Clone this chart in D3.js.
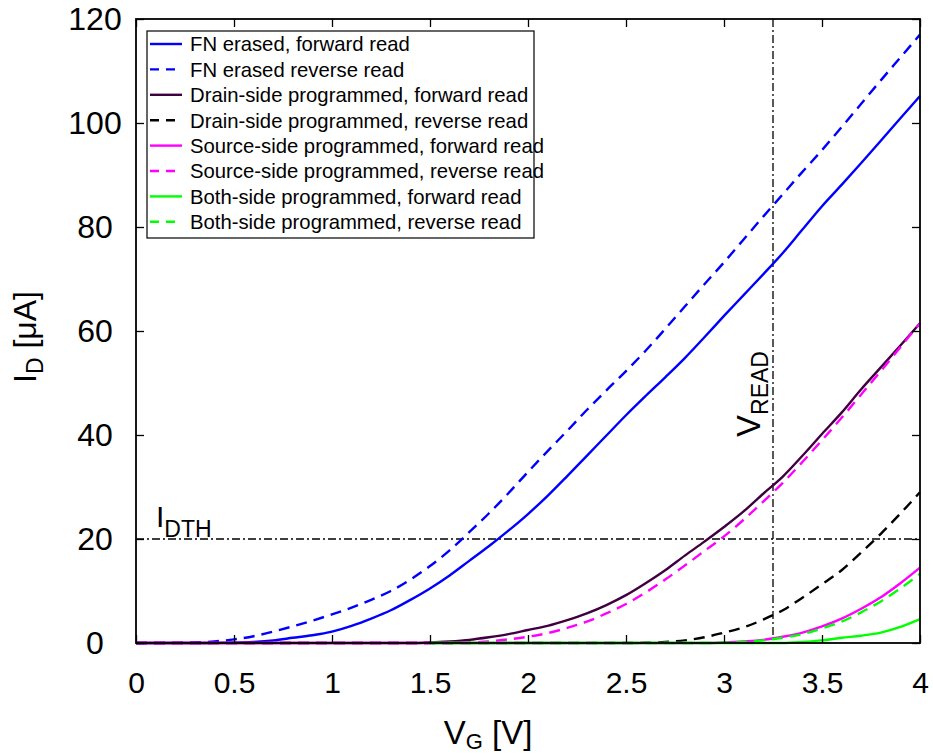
<!DOCTYPE html>
<html>
<head>
<meta charset="utf-8">
<script src="https://cdn.jsdelivr.net/npm/d3@7"></script>
<style>
  html, body { margin: 0; padding: 0; background: #fff; }
  svg { display: block; font-family: "Liberation Sans", Arial, sans-serif; }
</style>
</head>
<body>
<svg id="chart" width="933" height="755"></svg>
<script>
// ---- data ----
const vg = [0,0.1,0.2,0.3,0.4,0.5,0.6,0.7,0.8,0.9,1.0,1.1,1.2,1.3,1.4,1.5,1.6,1.7,1.8,1.9,2.0,
            2.1,2.2,2.3,2.4,2.5,2.6,2.7,2.8,2.9,3.0,3.1,3.2,3.3,3.4,3.5,3.6,3.7,3.8,3.9,4.0];
const vgBoth = [1.5,1.6,1.7,1.8,1.9,2.0,2.1,2.2,2.3,2.4,2.5,2.6,2.7,2.8,2.9,3.0,
                3.1,3.2,3.3,3.4,3.5,3.6,3.7,3.8,3.9,4.0];

const fnForward = [0,0,0,0,0.02,0.05,0.2,0.5,1.0,1.5,2.2,3.3,4.7,6.3,8.3,10.5,13.0,15.8,18.6,21.6,24.8,
                   28.3,32.1,36.0,39.9,43.8,47.5,51.1,54.8,58.8,62.9,66.9,70.9,75.0,79.5,84.0,88.1,92.3,96.6,100.9,105.2];
const fnReverse = [0,0,0.02,0.1,0.3,0.7,1.3,2.2,3.2,4.3,5.5,6.8,8.3,10.0,12.2,14.8,17.8,21.3,24.9,28.8,32.9,
                   36.9,40.8,44.8,48.6,52.3,56.2,60.4,64.7,69.0,73.2,77.6,82.0,86.3,90.6,94.8,99.2,103.7,108.2,112.6,117.0];
const drainForward = [0,0,0,0,0,0,0,0,0,0,0,0,0,0,0,0.1,0.3,0.6,1.1,1.7,2.5,
                      3.3,4.4,5.7,7.3,9.2,11.5,14.0,16.8,19.5,22.3,25.3,28.7,32.0,36.0,40.2,44.3,48.8,53.0,57.2,61.5];
const drainReverse = [0,0,0,0,0,0,0,0,0,0,0,0,0,0,0,0,0,0,0,0,0,
                      0,0,0,0,0,0.05,0.2,0.5,1.1,2.0,3.0,4.5,6.3,8.7,11.3,14.0,17.4,21.0,24.9,29.0];
const sourceForward = [0,0,0,0,0,0,0,0,0,0,0,0,0,0,0,0,0,0,0,0,0,
                       0,0,0,0,0,0,0,0,0,0.1,0.3,0.6,1.2,2.0,3.2,4.7,6.6,8.8,11.5,14.5];
const sourceReverse = [0,0,0,0,0,0,0,0,0,0,0,0,0,0,0,0,0,0.1,0.3,0.7,1.2,
                       1.9,2.9,4.1,5.7,7.5,9.7,12.2,14.9,17.7,20.5,23.7,27.2,30.8,34.8,39.0,43.3,47.8,52.3,56.9,61.5];
const bothForward = [0,0,0,0,0,0,0,0,0,0,0,0,0,0,0,0,0,0,0,0.2,0.5,1.0,1.4,2.0,3.1,4.6];
const bothReverse = [0,0,0,0,0,0,0,0,0,0,0,0,0,0,0,0.05,0.2,0.5,1.0,1.7,2.8,4.1,5.9,8.0,10.5,13.3];

const seriesNames = ["FN erased, forward read","FN erased reverse read",
  "Drain-side programmed, forward read","Drain-side programmed, reverse read",
  "Source-side programmed, forward read","Source-side programmed, reverse read",
  "Both-side programmed, forward read","Both-side programmed, reverse read"];
const seriesColors = ["#0000ff","#0000ff","#400040","#000000","#ff00ff","#ff00ff","#00ff00","#00ff00"];
const seriesDashed = [false,true,false,true,false,true,false,true];
const seriesX = [vg,vg,vg,vg,vg,vg,vgBoth,vgBoth];
const seriesY = [fnForward,fnReverse,drainForward,drainReverse,sourceForward,sourceReverse,bothForward,bothReverse];

const xTicks = [0,0.5,1,1.5,2,2.5,3,3.5,4];
const yTicks = [0,20,40,60,80,100,120];
const vRead = 3.25;
const iDth = 20;

// ---- layout ----
const svg = d3.select("#chart");
const L = 136, R = 920, T = 19, B = 643;
const x = d3.scaleLinear().domain([0,4]).range([L,R]);
const y = d3.scaleLinear().domain([0,120]).range([B,T]);

const dashArr = "11,7";
const dashDot = "8,3,2,3";

// reference lines
svg.append("line").attr("x1",x(vRead)).attr("x2",x(vRead)).attr("y1",y(120)).attr("y2",y(0))
  .attr("stroke","#000").attr("stroke-width",1.3).attr("stroke-dasharray",dashDot);
svg.append("line").attr("x1",x(0)).attr("x2",x(4)).attr("y1",y(iDth)).attr("y2",y(iDth))
  .attr("stroke","#000").attr("stroke-width",1.3).attr("stroke-dasharray",dashDot);

// curves
const line = d3.line().x(d=>x(d[0])).y(d=>y(d[1])).curve(d3.curveMonotoneX);
seriesNames.forEach((n,i)=>{
  const pts = seriesX[i].map((v,j)=>[v, seriesY[i][j]]);
  svg.append("path").datum(pts).attr("d",line)
    .attr("fill","none").attr("stroke",seriesColors[i])
    .attr("stroke-width",2.4)
    .attr("stroke-dasharray",seriesDashed[i]?dashArr:null);
});

// axes (inward ticks)
const fmt = d=>String(d);
const gx = svg.append("g").attr("transform",`translate(0,${B})`)
  .call(d3.axisBottom(x).tickValues(xTicks).tickSize(-8).tickSizeOuter(0).tickPadding(29).tickFormat(fmt));
const gxt = svg.append("g").attr("transform",`translate(0,${T})`)
  .call(d3.axisTop(x).tickValues(xTicks).tickSize(-8).tickSizeOuter(0).tickFormat(""));
const gy = svg.append("g").attr("transform",`translate(${L},0)`)
  .call(d3.axisLeft(y).tickValues(yTicks).tickSize(-8).tickSizeOuter(0).tickFormat(fmt));
const gyr = svg.append("g").attr("transform",`translate(${R},0)`)
  .call(d3.axisRight(y).tickValues(yTicks).tickSize(-8).tickSizeOuter(0).tickFormat(""));
[gx,gxt,gy,gyr].forEach(g=>{
  g.selectAll("path.domain").remove();
  g.selectAll(".tick line").attr("stroke","#000").attr("stroke-width",1.3);
});
gx.selectAll("text").attr("font-size",30).attr("fill","#000")
  .attr("font-family","'Liberation Sans', Arial, sans-serif");
gy.selectAll("text").attr("font-size",32).attr("fill","#000")
  .attr("text-anchor","middle").attr("x",95-L)
  .attr("font-family","'Liberation Sans', Arial, sans-serif");

// frame
svg.append("rect").attr("x",L).attr("y",T).attr("width",R-L).attr("height",B-T)
  .attr("fill","none").attr("stroke","#000").attr("stroke-width",1.8);

// axis titles
const xt = svg.append("text").attr("x",488).attr("y",744).attr("text-anchor","middle")
  .attr("font-size",33).attr("fill","#000");
xt.append("tspan").text("V");
xt.append("tspan").attr("font-size",22).attr("dy",5).text("G");
xt.append("tspan").attr("dy",-5).text(" [V]");

const yt = svg.append("text").attr("transform","translate(36,337) rotate(-90)")
  .attr("text-anchor","middle").attr("font-size",32).attr("fill","#000");
yt.append("tspan").text("I");
yt.append("tspan").attr("font-size",23).attr("dy",7).text("D");
yt.append("tspan").attr("dy",-7).text(" [μA]");

// annotations
const vr = svg.append("text").attr("transform",`translate(${x(vRead)-13},437) rotate(-90)`)
  .attr("text-anchor","start").attr("font-size",33).attr("fill","#000");
vr.append("tspan").text("V");
vr.append("tspan").attr("font-size",23).attr("dy",8).text("READ");

const it = svg.append("text").attr("x",156).attr("y",y(iDth)-12)
  .attr("font-size",30).attr("fill","#000");
it.append("tspan").text("I");
it.append("tspan").attr("font-size",23).attr("dy",10).text("DTH");

// legend
const lg = svg.append("g");
lg.append("rect").attr("x",147).attr("y",31).attr("width",387).attr("height",207)
  .attr("fill","#fff").attr("stroke","#000").attr("stroke-width",1.2);
seriesNames.forEach((n,i)=>{
  const yy = 44 + i*25.4;
  lg.append("line").attr("x1",150).attr("x2",182).attr("y1",yy).attr("y2",yy)
    .attr("stroke",seriesColors[i]).attr("stroke-width",2.4)
    .attr("stroke-dasharray",seriesDashed[i]?"9,7":null);
  lg.append("text").attr("x",190).attr("y",yy).attr("dy","0.36em")
    .attr("font-size",20.3).attr("fill","#000").text(n);
});
</script>
</body>
</html>
